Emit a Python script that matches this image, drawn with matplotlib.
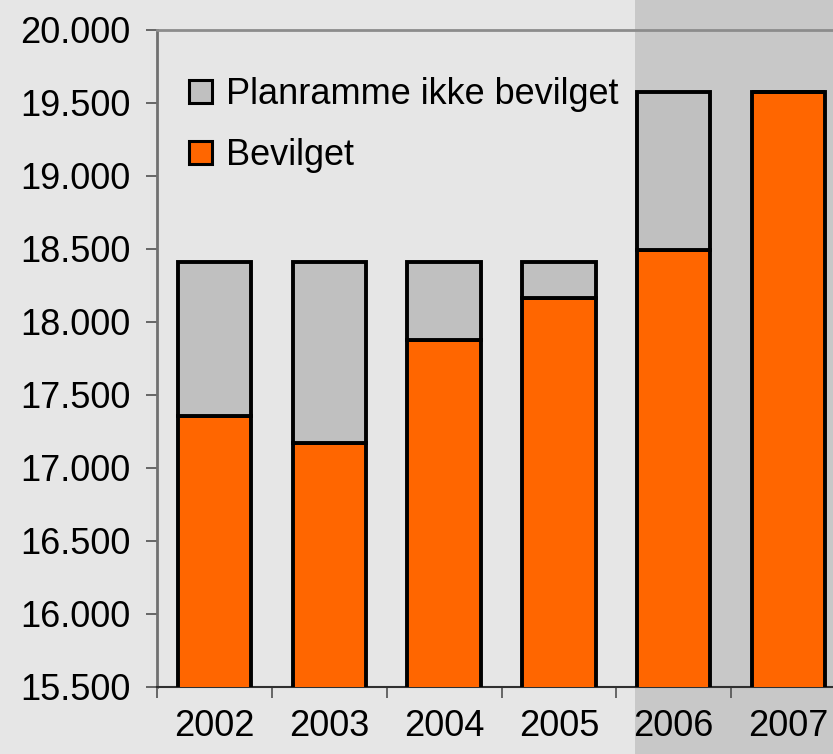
import matplotlib
matplotlib.use('Agg')
import matplotlib.pyplot as plt
from matplotlib.patches import Rectangle, Patch
from matplotlib.ticker import FixedLocator, FuncFormatter

# data
years = ['2002', '2003', '2004', '2005', '2006', '2007']
bevilget = [17355, 17168, 17875, 18163, 18493, 19570]
ikke_bevilget = [1055, 1242, 535, 247, 1077, 0]

ORANGE = '#FF6600'
GREY = '#C0C0C0'

plt.rcParams['font.family'] = ['Liberation Sans', 'DejaVu Sans']
plt.rcParams['font.size'] = 26

fig = plt.figure(figsize=(8.33, 7.54), dpi=100, facecolor='#E6E6E6')
# darker shading behind the last two years
fig.patches.append(Rectangle((635 / 833, 0), 1, 1, transform=fig.transFigure,
                             facecolor='#C8C8C8', edgecolor='none', zorder=-1))

ax = fig.add_axes([157 / 833, 67 / 754, 689 / 833, 657.5 / 754])
ax.set_facecolor('none')

x = list(range(len(years)))
ax.bar(x, bevilget, width=0.64, color=ORANGE, edgecolor='black', linewidth=2.8, zorder=3)
ax.bar(x, ikke_bevilget, width=0.64, bottom=bevilget, color=GREY, edgecolor='black',
       linewidth=2.8, zorder=3)

ax.set_xlim(-0.5, 5.5)
ax.set_ylim(15500, 20000)
ax.set_yticks(range(15500, 20001, 500))
ax.yaxis.set_major_formatter(FuncFormatter(lambda v, p: f'{v:,.0f}'.replace(',', '.')))

# ticks on the category borders, labels in the middle
ax.xaxis.set_major_locator(FixedLocator([i - 0.5 for i in range(len(years) + 1)]))
ax.xaxis.set_major_formatter(FuncFormatter(lambda v, p: ''))
ax.xaxis.set_minor_locator(FixedLocator(x))
ax.set_xticklabels(years, minor=True)
ax.tick_params(axis='x', which='major', direction='out', length=8, width=1.2, color='#505050')
ax.tick_params(axis='x', which='minor', length=0, pad=16)
ax.tick_params(axis='y', direction='out', length=8, width=1.2, color='#505050', pad=11)

ax.spines['right'].set_visible(False)
ax.spines['left'].set_color('#707070')
ax.spines['left'].set_linewidth(2)
ax.spines['top'].set_color('#8C8C8C')
ax.spines['top'].set_linewidth(2)
ax.spines['bottom'].set_color('#303030')
ax.spines['bottom'].set_linewidth(1.5)

handles = [Patch(facecolor=GREY, edgecolor='black', linewidth=2.2),
           Patch(facecolor=ORANGE, edgecolor='black', linewidth=2.2)]
fig.legend(handles, ['Planramme ikke bevilget', 'Bevilget'], loc='upper left',
           bbox_to_anchor=(189 / 833, 1 - 77 / 754), frameon=False, borderpad=0,
           borderaxespad=0, handlelength=0.63, handleheight=0.6, handletextpad=0.4,
           labelspacing=0.72, fontsize=26)

plt.savefig('out.png', dpi=100, facecolor=fig.get_facecolor())
